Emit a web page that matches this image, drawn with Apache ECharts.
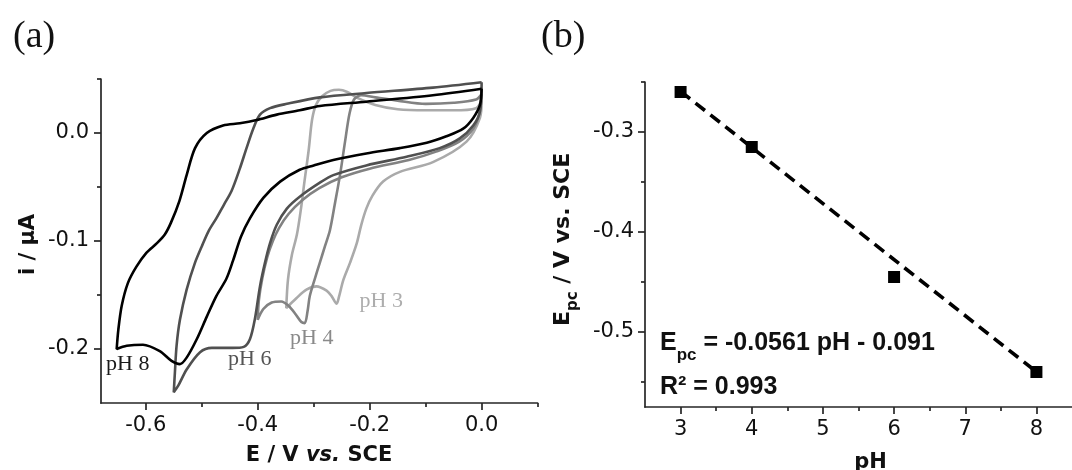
<!DOCTYPE html>
<html>
<head>
<meta charset="utf-8">
<script src="https://cdn.jsdelivr.net/npm/echarts@6.0.0/dist/echarts.min.js"></script>
<style>
html,body{margin:0;padding:0;background:#ffffff;}
#chart{width:1072px;height:470px;}
</style>
</head>
<body>
<div id="chart"></div>
<script>
// ---------------- data ----------------
// cyclic voltammograms: [E / V vs SCE, i / uA]
const cv_pH8 = [
[0.000,0.041],[-0.003,0.026],[-0.015,0.014],[-0.033,0.004],[-0.063,-0.003],[-0.098,-0.009],[-0.146,-0.014],[-0.206,-0.019],[-0.265,-0.025],[-0.300,-0.030],[-0.325,-0.034],[-0.360,-0.045],[-0.390,-0.060],[-0.414,-0.079],[-0.430,-0.096],[-0.444,-0.118],[-0.456,-0.135],[-0.474,-0.151],[-0.491,-0.170],[-0.509,-0.191],[-0.527,-0.208],[-0.539,-0.214],[-0.554,-0.211],[-0.575,-0.202],[-0.605,-0.196],[-0.634,-0.197],[-0.652,-0.200],
[-0.649,-0.182],[-0.643,-0.160],[-0.632,-0.139],[-0.617,-0.124],[-0.599,-0.111],[-0.580,-0.102],[-0.566,-0.094],[-0.555,-0.083],[-0.540,-0.063],[-0.527,-0.039],[-0.512,-0.014],[-0.491,0.000],[-0.462,0.007],[-0.432,0.009],[-0.402,0.012],[-0.366,0.017],[-0.325,0.021],[-0.289,0.025],[-0.206,0.029],[-0.087,0.035],[0.000,0.041]
];
const cv_pH6 = [
[0.000,0.047],[-0.003,0.020],[-0.015,0.007],[-0.039,-0.005],[-0.075,-0.014],[-0.134,-0.022],[-0.206,-0.030],[-0.265,-0.039],[-0.289,-0.046],[-0.325,-0.059],[-0.348,-0.070],[-0.366,-0.085],[-0.378,-0.102],[-0.387,-0.120],[-0.396,-0.142],[-0.405,-0.172],[-0.414,-0.191],[-0.425,-0.198],[-0.445,-0.199],[-0.465,-0.199],[-0.482,-0.199],[-0.503,-0.203],[-0.527,-0.219],[-0.542,-0.234],[-0.550,-0.240],
[-0.548,-0.222],[-0.545,-0.197],[-0.539,-0.173],[-0.527,-0.145],[-0.512,-0.120],[-0.500,-0.105],[-0.488,-0.091],[-0.474,-0.079],[-0.460,-0.066],[-0.447,-0.054],[-0.432,-0.033],[-0.420,-0.014],[-0.408,0.004],[-0.396,0.017],[-0.378,0.023],[-0.348,0.027],[-0.289,0.033],[-0.206,0.037],[-0.087,0.042],[0.000,0.047]
];
const cv_pH4 = [
[0.000,0.036],[-0.004,0.018],[-0.015,0.004],[-0.040,-0.008],[-0.080,-0.017],[-0.130,-0.025],[-0.200,-0.033],[-0.250,-0.041],[-0.290,-0.051],[-0.320,-0.062],[-0.345,-0.075],[-0.362,-0.088],[-0.373,-0.100],[-0.383,-0.115],[-0.392,-0.135],[-0.398,-0.155],[-0.400,-0.173],
[-0.390,-0.163],[-0.375,-0.157],[-0.358,-0.156],[-0.345,-0.160],[-0.332,-0.168],[-0.322,-0.175],[-0.316,-0.176],[-0.311,-0.165],[-0.307,-0.151],[-0.298,-0.135],[-0.289,-0.120],[-0.280,-0.105],[-0.271,-0.090],[-0.262,-0.065],[-0.253,-0.039],[-0.244,-0.008],[-0.236,0.018],[-0.228,0.031],[-0.215,0.035],[-0.190,0.033],[-0.150,0.030],[-0.100,0.027],[-0.050,0.028],[-0.010,0.031],[0.000,0.036]
];
const cv_pH3 = [
[0.000,0.030],[-0.003,0.014],[-0.027,-0.008],[-0.087,-0.027],[-0.146,-0.036],[-0.176,-0.045],[-0.195,-0.058],[-0.206,-0.070],[-0.215,-0.085],[-0.223,-0.102],[-0.235,-0.120],[-0.247,-0.136],[-0.255,-0.152],[-0.259,-0.158],[-0.268,-0.151],[-0.277,-0.146],[-0.295,-0.142],[-0.313,-0.145],[-0.331,-0.153],[-0.349,-0.162],
[-0.346,-0.136],[-0.339,-0.113],[-0.330,-0.094],[-0.323,-0.071],[-0.316,-0.043],[-0.309,-0.016],[-0.303,0.012],[-0.296,0.026],[-0.285,0.034],[-0.270,0.039],[-0.255,0.040],[-0.240,0.038],[-0.220,0.032],[-0.190,0.026],[-0.150,0.022],[-0.100,0.021],[-0.050,0.021],[-0.010,0.023],[0.000,0.030]
];
const cvLabels = ['pH 8', 'pH 6', 'pH 4', 'pH 3'];

// cathodic peak potentials vs pH
const pH_values = [3, 4, 6, 8];
const Epc_values = [-0.260, -0.315, -0.445, -0.540];
// dashed linear fit, end points
const fit_pH = [3, 8];
const fit_Epc = [-0.2593, -0.5398];

// tick values
const a_xTicks = [-0.6, -0.4, -0.2, 0.0];
const a_xMinor = [-0.5, -0.3, -0.1, 0.1];
const a_yTicks = [-0.2, -0.1, 0.0];
const a_yMinor = [-0.15, -0.05, 0.05];
const b_xTicks = [3, 4, 5, 6, 7, 8];
const b_xMinor = [3.5, 4.5, 5.5, 6.5, 7.5];
const b_yTicks = [-0.5, -0.4, -0.3];
const b_yMinor = [-0.55, -0.45, -0.35, -0.25];

// ---------------- chart ----------------
const AX = '#262626';
const TICK_FONT = 'DejaVu Sans';
function axisPair(kind, gridIndex, min, max, ticks, minors, fmt, margin) {
  const pos = kind === 'x' ? 'bottom' : 'left';
  const major = {
    type: 'value', gridIndex: gridIndex, min: min, max: max, position: pos,
    axisLine: {show: true, onZero: false, lineStyle: {color: AX, width: 1.7}},
    axisTick: {show: true, inside: false, length: 7, customValues: ticks, lineStyle: {color: AX, width: 1.7}},
    axisLabel: {show: true, customValues: ticks, formatter: fmt, margin: margin, color: '#111', fontSize: 21, fontFamily: TICK_FONT},
    splitLine: {show: false}
  };
  const minor = {
    type: 'value', gridIndex: gridIndex, min: min, max: max, position: pos, offset: 0,
    axisLine: {show: false, onZero: false},
    axisTick: {show: true, inside: false, length: 4, customValues: minors, lineStyle: {color: AX, width: 1.7}},
    axisLabel: {show: false},
    splitLine: {show: false}
  };
  return [major, minor];
}
const f1 = v => v.toFixed(1);
const f0 = v => String(v);

const cvColors = ['#000000', '#505050', '#828282', '#aaaaaa'];
const cvData = [cv_pH8, cv_pH6, cv_pH4, cv_pH3];
const series = [];
for (let k = cvData.length - 1; k >= 0; k--) {
  series.push({
    type: 'line', name: cvLabels[k], xAxisIndex: 0, yAxisIndex: 0,
    data: cvData[k], showSymbol: false, smooth: 0.3, smoothMonotone: null,
    lineStyle: {color: cvColors[k], width: 2.6}, z: 10 - k, silent: true
  });
}
series.push({
  type: 'line', xAxisIndex: 2, yAxisIndex: 2,
  data: fit_pH.map((x, i) => [x, fit_Epc[i]]),
  showSymbol: false, lineStyle: {color: '#000', width: 3.6, type: [12, 7]}, silent: true, z: 5
});
series.push({
  type: 'scatter', xAxisIndex: 2, yAxisIndex: 2,
  data: pH_values.map((x, i) => [x, Epc_values[i]]),
  symbol: 'rect', symbolSize: 12, itemStyle: {color: '#000', opacity: 1}, silent: true, z: 6
});

// ---------- text annotations ----------
const cv = document.createElement('canvas').getContext('2d');
function tw(t, font) { cv.font = font; return cv.measureText(t).width; }
const G = [];
function addText(text, x, y, font, fill, align) {
  G.push({type: 'text', x: x, y: y, silent: true,
    style: {text: text, font: font, fill: fill, align: align || 'left', textAlign: align || 'left', verticalAlign: 'middle', textVerticalAlign: 'middle'}});
}
function mid(baseline, size) { return baseline - 0.35 * size; }

const SERIF = '"Liberation Serif"';
addText('(a)', 13, mid(50, 38), '38px ' + SERIF, '#111');
addText('(b)', 541, mid(50, 38), '38px ' + SERIF, '#111');
const lblPos = [[106, 371.7], [228, 366.7], [290, 346], [359.5, 309]];
const lblColors = ['#1a1a1a', '#555555', '#8a8a8a', '#adadad'];
cvLabels.forEach((t, k) => addText(t, lblPos[k][0], mid(lblPos[k][1], 22), '22px ' + SERIF, lblColors[k]));

// axis titles
const TB = 'bold 21px "DejaVu Sans"';
const TBI = 'italic bold 21px "DejaVu Sans"';
(function () {
  const p1 = 'E / V ', p2 = 'vs.', p3 = ' SCE';
  const w1 = tw(p1, TB), w2 = tw(p2, TBI), w3 = tw(p3, TB);
  const x0 = 319 - (w1 + w2 + w3) / 2, yb = mid(463.3, 21);
  addText(p1, x0, yb, TB, '#111');
  addText(p2, x0 + w1, yb, TBI, '#111');
  addText(p3, x0 + w1 + w2, yb, TB, '#111');
})();
addText('pH', 870.5, mid(470, 21), TB, '#111', 'center');
G.push({type: 'text', x: 36 - 0.35 * 21, y: 244.5, rotation: Math.PI / 2, silent: true,
  style: {text: 'i / μA', font: TB, fill: '#111', align: 'center', textAlign: 'center', verticalAlign: 'middle', textVerticalAlign: 'middle'}});
(function () {
  const FM = 'bold 22px "DejaVu Sans"', FS = 'bold 15px "DejaVu Sans"';
  const wE = tw('E', FM), wP = tw('pc', FS);
  const mk = (t, x, y, f) => ({type: 'text', x: x, y: y, silent: true,
    style: {text: t, font: f, fill: '#111', align: 'left', textAlign: 'left', verticalAlign: 'middle', textVerticalAlign: 'middle'}});
  G.push({type: 'group', x: 571, y: 326, rotation: Math.PI / 2, silent: true, children: [
    mk('E', 0, -0.35 * 22, FM),
    mk('pc', wE, 7 - 0.35 * 15, FS),
    mk(' / V vs. SCE', wE + wP, -0.35 * 22, FM)
  ]});
})();
// fit equation
(function () {
  const FM = 'bold 25px "Liberation Sans"', FS = 'bold 17px "Liberation Sans"';
  const x0 = 660, wE = tw('E', FM), wP = tw('pc', FS);
  addText('E', x0, mid(351.7, 25), FM, '#111');
  addText('pc', x0 + wE, mid(361.5, 17), FS, '#111');
  addText(' = -0.0561 pH - 0.091', x0 + wE + wP, mid(351.7, 25), FM, '#111');
  addText('R² = 0.993', x0, mid(395.6, 25), FM, '#111');
})();

const ax = axisPair('x', 0, -0.68, 0.1, a_xTicks, a_xMinor, f1, 12);
const bx = axisPair('x', 1, 2.5, 8.5, b_xTicks, b_xMinor, f0, 12);
const ay = axisPair('y', 0, -0.25, 0.05, a_yTicks, a_yMinor, f1, 12);
const by = axisPair('y', 1, -0.575, -0.25, b_yTicks, b_yMinor, f1, 11);

const option = {
  animation: false,
  backgroundColor: '#ffffff',
  grid: [
    {left: 101, top: 79, width: 436.6, height: 324},
    {left: 645, top: 82, right: -9, height: 325}
  ],
  xAxis: [ax[0], ax[1], bx[0], bx[1]],
  yAxis: [ay[0], ay[1], by[0], by[1]],
  series: series,
  graphic: {elements: G}
};
const chart = echarts.init(document.getElementById('chart'), null, {renderer: 'canvas', width: 1072, height: 470});
chart.setOption(option);
</script>
</body>
</html>
